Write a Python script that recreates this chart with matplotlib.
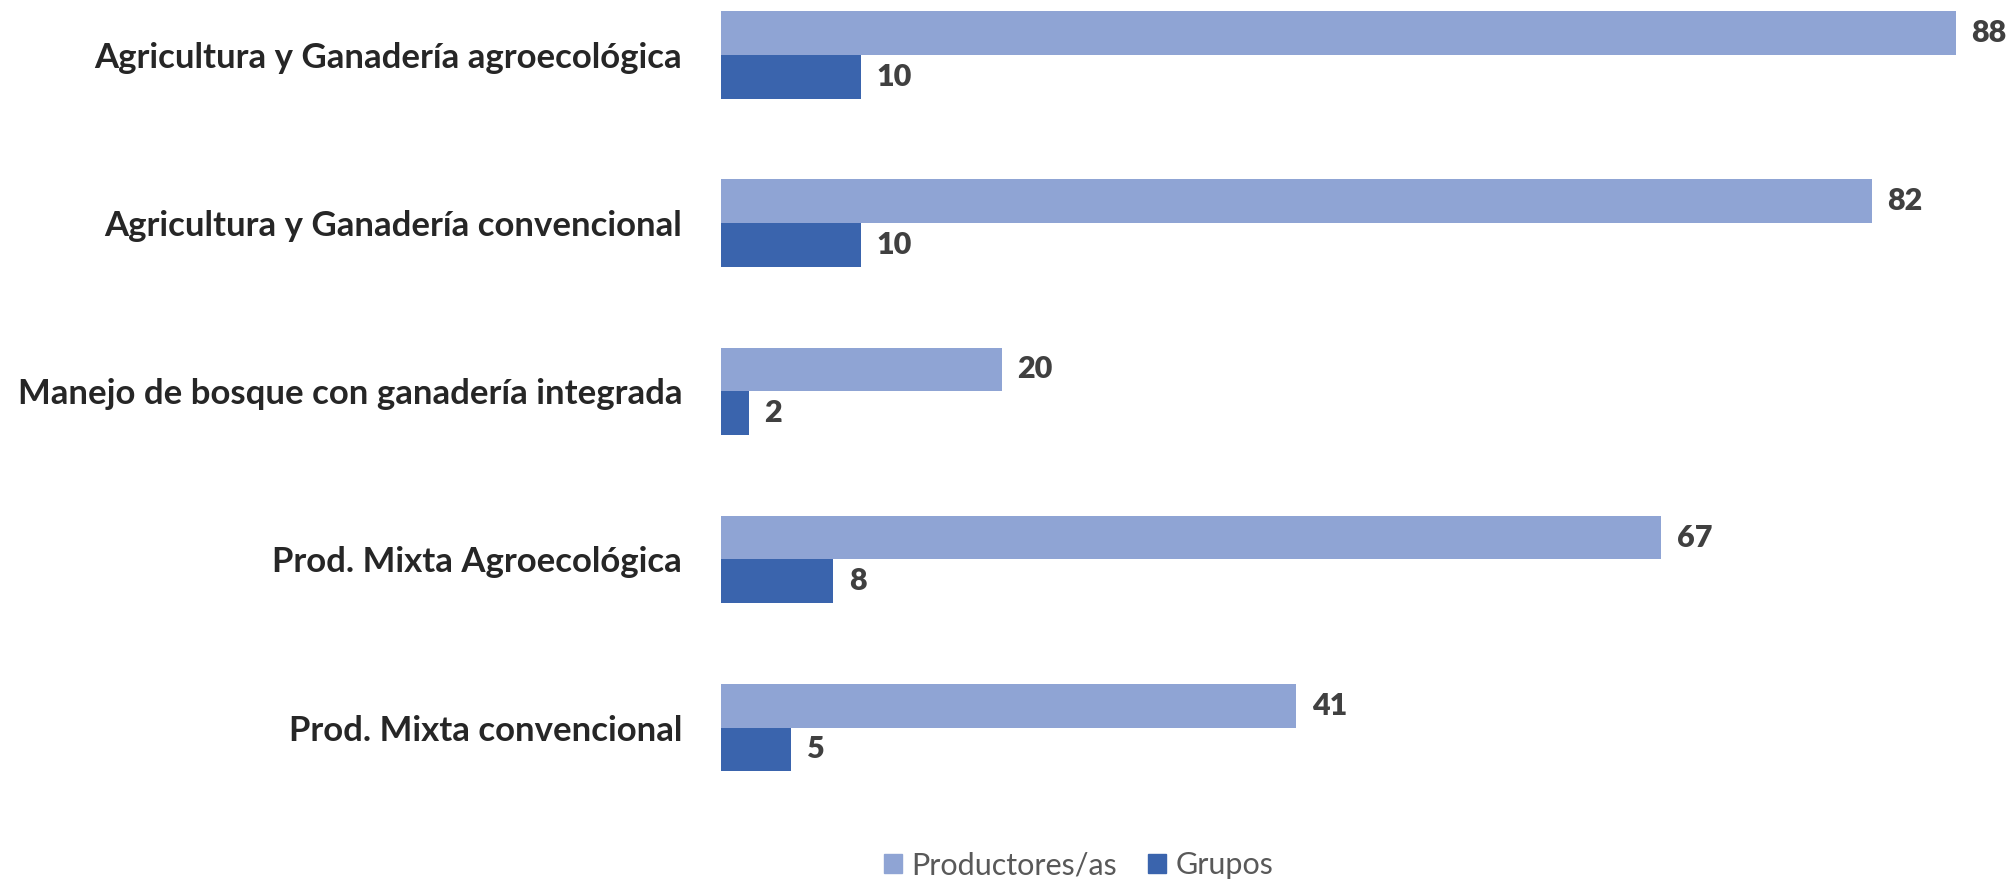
import numpy as np
import matplotlib.pyplot as plt
from matplotlib.patches import Patch

# datos
categorias = ["Agricultura y Ganadería agroecológica",
              "Agricultura y Ganadería convencional",
              "Manejo de bosque con ganadería integrada",
              "Prod. Mixta Agroecológica",
              "Prod. Mixta convencional"]
productores = [88, 82, 20, 67, 41]
grupos = [10, 10, 2, 8, 5]

color_prod = "#8FA4D4"
color_grup = "#3A64AD"

plt.rcParams['font.family'] = ['Lato', 'DejaVu Sans']

fig = plt.figure(figsize=(20.12, 8.82), dpi=100)
ax = fig.add_axes([0.3584, 0.0798, 0.6347, 0.9202])

y = np.arange(len(categorias))
h = 0.26
b1 = ax.barh(y - h / 2, productores, height=h, color=color_prod)
b2 = ax.barh(y + h / 2, grupos, height=h, color=color_grup)

for barras in (b1, b2):
    for b in barras:
        ax.text(b.get_width() + 1.1, b.get_y() + b.get_height() / 2,
                str(int(b.get_width())), va="center", ha="left",
                fontsize=22, fontweight="heavy", color="#404040")

ax.set_xlim(0, 91)
ax.set_ylim(4.5, -0.327)
ax.set_yticks(y)
ax.set_yticklabels(categorias, fontsize=25, fontweight="bold", color="#262626")
ax.tick_params(axis="y", length=0, pad=28)
ax.set_xticks([])
for s in ax.spines.values():
    s.set_visible(False)

handles = [Patch(color=color_prod, label="Productores/as"),
           Patch(color=color_grup, label="Grupos")]
fig.legend(handles=handles, loc="center", bbox_to_anchor=(0.536, 0.019),
           ncol=2, frameon=False, fontsize=22, handlelength=0.6,
           handleheight=0.6, handletextpad=0.3, columnspacing=1.0,
           labelcolor="#595959")

fig.savefig("out.png", dpi=100)
